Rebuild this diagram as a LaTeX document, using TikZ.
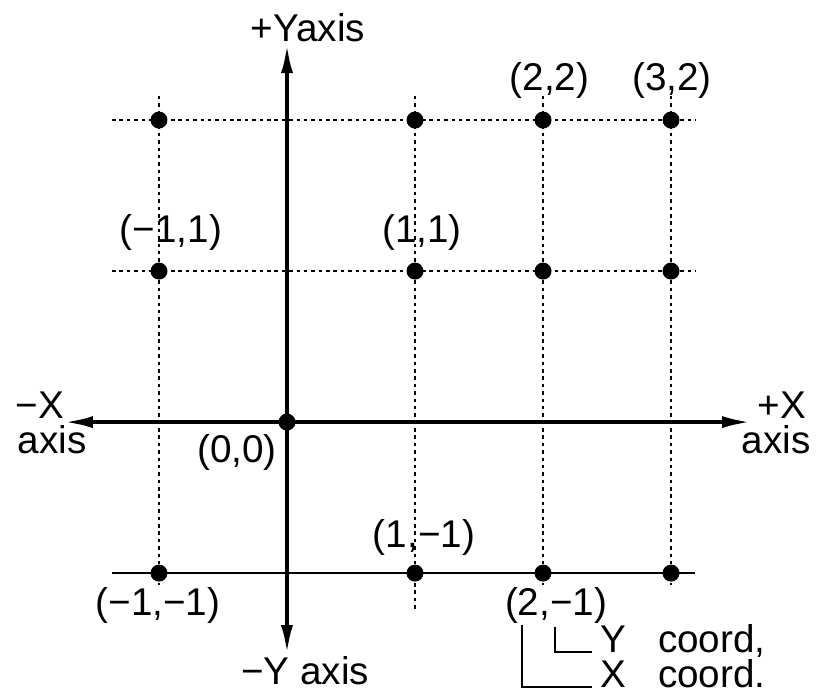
\documentclass[tikz,border=0pt]{standalone}
\usepackage{fontspec}
\setmainfont{Liberation Sans}
\usetikzlibrary{arrows.meta}
\tikzset{
  axis/.style={line width=1.2pt, {Latex[length=3mm,width=1.2mm]}-{Latex[length=3mm,width=1.2mm]}},
  gridline/.style={line width=0.6pt, dash pattern=on 1pt off 1.1pt},
  dot/.style={circle, fill=black, inner sep=0pt, minimum size=1.7mm},
  lbl/.style={font=\fontsize{11}{13}\selectfont, inner sep=1pt},
  keylbl/.style={lbl, inner sep=0pt, text depth=0pt, anchor=base west},
}
\begin{document}
\begin{tikzpicture}[x=1.28cm, y=1.51cm]
    \useasboundingbox (-2.242,-1.781) rectangle (4.156,2.795);

    % Grid lines
    \draw[gridline] (-1.367,2) -- (3.19,2);
    \draw[gridline] (-1.367,1) -- (3.19,1);
    \draw[line width=0.7pt] (-1.367,-1) -- (3.19,-1);
    \foreach \x in {-1,2,3}
        \draw[gridline] (\x,2.16) -- (\x,-1.08);
    \draw[gridline] (1,2.16) -- (1,-1.26);

    % Axes
    \coordinate (xl) at (-1.75,0);
    \coordinate (xr) at (3.633,0);
    \coordinate (yt) at (0,2.51);
    \coordinate (yb) at (0,-1.543);
    \draw[axis] (xl) -- (xr);
    \draw[axis] (yb) -- (yt);

    % Points
    \node[dot] (d00) at (0,0) {};
    \foreach \x/\n in {-1/m1,1/1,2/2,3/3}
        \foreach \y/\m in {2/2,1/1,-1/m1}
            \node[dot] (d\n\m) at (\x,\y) {};

    % Axis labels
    \node[lbl] (ytop) at (0.164,2.609) {+Yaxis};
    \node[lbl] (ybot) at (0.141,-1.649) {−Y axis};
    \node[lbl] (xneg) at (-1.93,0.113) {−X};
    \node[lbl] (xnega) at (-1.836,-0.119) {axis};
    \node[lbl] (xpos) at (3.867,0.113) {+X};
    \node[lbl] (xposa) at (3.82,-0.119) {axis};

    % Point labels
    \node[lbl] (l22) at (2.05,2.265) {(2,2)};
    \node[lbl] (l32) at (3.008,2.265) {(3,2)};
    \node[lbl] (lm11) at (-0.906,1.258) {(−1,1)};
    \node[lbl] (l11) at (1.055,1.258) {(1,1)};
    \node[lbl] (l00) at (-0.39,-0.199) {(0,0)};
    \node[lbl] (l1m1) at (1.07,-0.762) {(1,−1)};
    \node[lbl] (lm1m1) at (-1.008,-1.212) {(−1,−1)};
    \node[lbl] (l2m1) at (2.102,-1.212) {(2,−1)};

    % Coordinate key
    \node[keylbl] (ykey) at (2.44,-1.525) {Y\ \ \ coord,};
    \node[keylbl] (xkey) at (2.44,-1.757) {X\ \ \ coord.};
    \coordinate (ytick) at (2.094,-1.358);
    \coordinate (xtick) at (1.836,-1.344);
    \draw[line width=0.6pt] (ytick) |- ([xshift=-2pt]ykey.base west);
    \draw[line width=0.6pt] (xtick) |- ([xshift=-2pt]xkey.base west);
\end{tikzpicture}
\end{document}
